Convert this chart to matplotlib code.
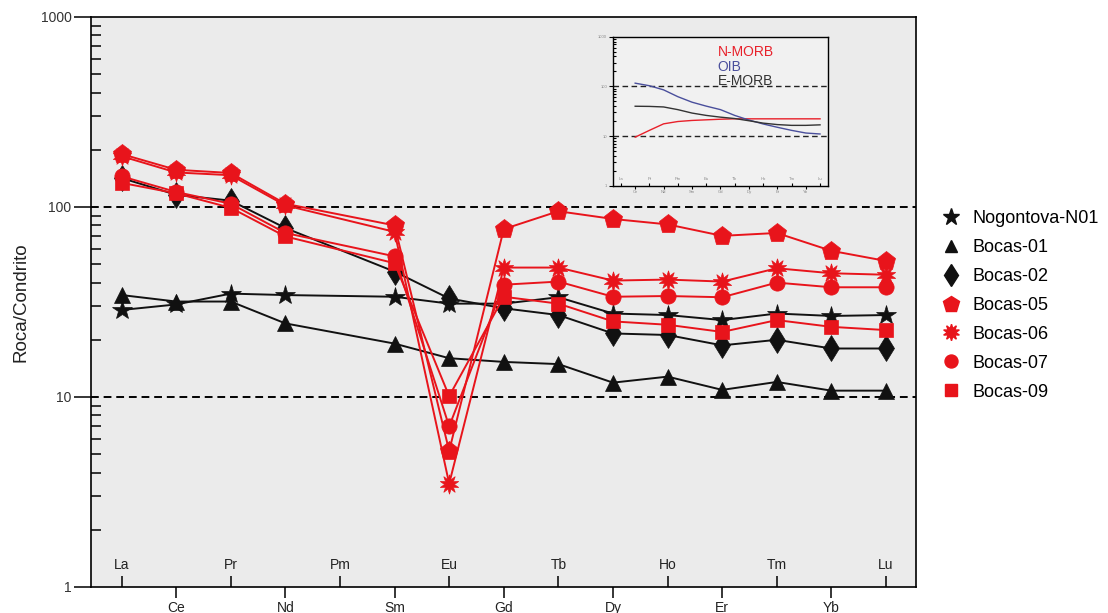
import numpy as np
import matplotlib.pyplot as plt
from matplotlib.lines import Line2D
from matplotlib.ticker import FixedLocator, NullFormatter, LogLocator

plt.rcParams['font.family'] = ['Liberation Sans', 'DejaVu Sans']

# Tierras raras en el eje x (Pm sin datos)
elementos = ['La', 'Ce', 'Pr', 'Nd', 'Pm', 'Sm', 'Eu', 'Gd', 'Tb', 'Dy', 'Ho', 'Er', 'Tm', 'Yb', 'Lu']
elem_datos = ['La', 'Ce', 'Pr', 'Nd', 'Sm', 'Eu', 'Gd', 'Tb', 'Dy', 'Ho', 'Er', 'Tm', 'Yb', 'Lu']

# Roca/Condrito por muestra
nogontova_n01 = [28.7, 30.7, 35, 34.4, 33.7, 31, 31, 33.5, 27.5, 27, 25.4, 27.5, 26.7, 27]
bocas_01 = [34.4, 31.8, 31.8, 24.4, 19.1, 16, 15.3, 14.9, 11.9, 12.8, 10.9, 12, 10.8, 10.8]
bocas_02 = [142, 116, 108, 77.5, 45.7, 33, 29.3, 27, 21.6, 21.2, 18.7, 20, 18, 18]
bocas_05 = [190, 157, 151, 104, 80, 5.2, 76.5, 95, 86.5, 81, 70.5, 73, 58.8, 52]
bocas_06 = [185, 152, 147, 102, 74, 3.5, 48, 48, 41, 41.5, 40.5, 47.6, 44.8, 44]
bocas_07 = [145, 120, 104, 73, 55, 7.0, 39, 40.5, 33.7, 34, 33.5, 40, 37.8, 37.8]
bocas_09 = [134, 118, 99, 70, 50.6, 10.1, 33.7, 31, 25, 24, 22, 25.4, 23.4, 22.5]

muestras = ['Nogontova-N01', 'Bocas-01', 'Bocas-02', 'Bocas-05', 'Bocas-06', 'Bocas-07', 'Bocas-09']
valores = [nogontova_n01, bocas_01, bocas_02, bocas_05, bocas_06, bocas_07, bocas_09]

# Recuadro: N-MORB, OIB, E-MORB (Ce..Lu)
inset_elem = elementos[1:]
n_morb = [9.5, 13, 17.6, 19.6, 20.6, 21.2, 21.8, 22.2, 22.2, 22.2, 22.2, 22.2, 22.2, 22.2]
oib = [116, 103, 85, 62, 48, 40, 34, 26, 21, 17.5, 15, 13, 11.5, 11]
e_morb = [39.8, 39.5, 38.5, 34, 29, 26, 24, 22.5, 20.3, 18.2, 17, 16.4, 16.4, 16.8]

ROJO = '#e8141b'
NEGRO = '#111111'
estilos = [
    dict(marker='*', color=NEGRO, ms=15),
    dict(marker='^', color=NEGRO, ms=11),
    dict(marker='d', color=NEGRO, ms=13),
    dict(marker='p', color=ROJO, ms=14),
    dict(marker=(10, 1, 0), color=ROJO, ms=14),
    dict(marker='o', color=ROJO, ms=11),
    dict(marker='s', color=ROJO, ms=10),
]

xpos = [elementos.index(e) for e in elem_datos]

fig = plt.figure(figsize=(11.08, 6.13), dpi=100)
ax = fig.add_axes([91 / 1108, 1 - 587 / 613, 825 / 1108, 570 / 613])
ax.set_facecolor('#ebebeb')
ax.set_yscale('log')
ax.set_ylim(1, 1000)
ax.set_xlim(-0.56, 14.55)

for y in (10, 100):
    ax.axhline(y, color='k', lw=1.4, ls=(0, (4, 2.5)), zorder=1)

for nombre, vals, st in zip(muestras, valores, estilos):
    ax.plot(xpos, vals, color=st['color'], lw=1.4, marker=st['marker'], ms=st['ms'],
            mec=st['color'], mfc=st['color'], mew=0.5, zorder=3, label=nombre)

# Eje y
ax.yaxis.set_major_locator(FixedLocator([1, 10, 100, 1000]))
ax.set_yticklabels(['1', '10', '100', '1000'])
ax.yaxis.set_minor_locator(LogLocator(base=10, subs=np.arange(2, 10)))
ax.yaxis.set_minor_formatter(NullFormatter())
ax.tick_params(axis='y', which='major', direction='out', length=12, width=1.1,
               labelsize=10, labelcolor='#333333', pad=2)
ax.tick_params(axis='y', which='minor', direction='in', length=7, width=1.1)
ax.set_ylabel('Roca/Condrito', fontsize=13.5, color='#222222', labelpad=8)

# Eje x: dos filas de etiquetas
abajo = list(range(1, 15, 2))
arriba = list(range(0, 15, 2))
ax.set_xticks(abajo)
ax.set_xticklabels([elementos[i] for i in abajo])
ax.xaxis.set_minor_locator(FixedLocator(arriba))
ax.tick_params(axis='x', which='major', direction='out', length=8, width=1.1,
               labelsize=10, labelcolor='#222222', pad=2)
ax.tick_params(axis='x', which='minor', direction='in', length=8, width=1.1)
for i in arriba:
    ax.text(i, 0.026, elementos[i], transform=ax.get_xaxis_transform(),
            ha='center', va='bottom', fontsize=10, color='#222222')

for s in ax.spines.values():
    s.set_linewidth(1.2)

# Leyenda
handles = [Line2D([], [], ls='none', marker=st['marker'], color=st['color'],
                  ms=st['ms'] * 0.85) for st in estilos]
fig.legend(handles, muestras, loc='upper left', bbox_to_anchor=(0.840, 0.672),
           frameon=False, fontsize=13, handlelength=1.2, handletextpad=0.6,
           labelspacing=0.66, borderpad=0)

# Recuadro
axi = fig.add_axes([612.7 / 1108, 1 - 185.7 / 613, 215.3 / 1108, 149 / 613])
axi.set_facecolor('#f1f1f1')
axi.set_yscale('log')
axi.set_ylim(1, 1000)
axi.set_xlim(-0.58, 14.56)
for y in (10, 100):
    axi.axhline(y, color='#222222', lw=1.0, ls=(0, (4, 2.5)), zorder=1)
xin = range(1, 15)
axi.plot(xin, n_morb, color='#e8202a', lw=1.0)
axi.plot(xin, oib, color='#4a4f9c', lw=1.0)
axi.plot(xin, e_morb, color='#333333', lw=1.0)
axi.text(0.488, 0.895, 'N-MORB', transform=axi.transAxes, color='#e8202a',
         fontsize=10, va='center')
axi.text(0.488, 0.795, 'OIB', transform=axi.transAxes, color='#4a4f9c',
         fontsize=10, va='center')
axi.text(0.488, 0.705, 'E-MORB', transform=axi.transAxes, color='#333333',
         fontsize=10, va='center')
axi.yaxis.set_major_locator(FixedLocator([1, 10, 100, 1000]))
axi.set_yticklabels(['1', '10', '100', '1000'])
axi.yaxis.set_minor_locator(LogLocator(base=10, subs=np.arange(2, 10)))
axi.yaxis.set_minor_formatter(NullFormatter())
axi.tick_params(axis='y', which='major', direction='out', length=3, width=0.8,
                labelsize=3, labelcolor='#888888', pad=1)
axi.tick_params(axis='y', which='minor', direction='in', length=2, width=0.8)
axi.set_xticks(abajo)
axi.set_xticklabels([elementos[i] for i in abajo])
axi.xaxis.set_minor_locator(FixedLocator(arriba))
axi.tick_params(axis='x', which='major', direction='out', length=2, width=0.8,
                labelsize=3, labelcolor='#888888', pad=1)
axi.tick_params(axis='x', which='minor', direction='in', length=2, width=0.8)
for i in arriba:
    axi.text(i, 0.03, elementos[i], transform=axi.get_xaxis_transform(),
             ha='center', va='bottom', fontsize=3, color='#888888')
for s in axi.spines.values():
    s.set_linewidth(1.0)

fig.savefig('out.png', dpi=100)
